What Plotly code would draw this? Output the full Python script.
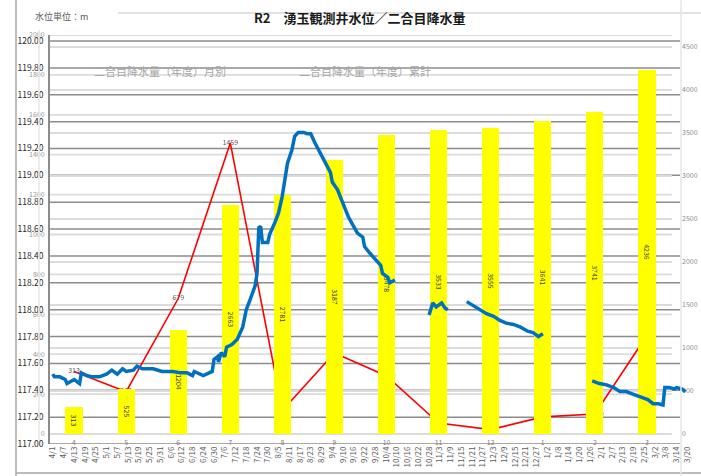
import plotly.graph_objects as go

# ---------------- data ----------------
months = ["4", "5", "6", "7", "8", "9", "10", "11", "12", "1", "2", "3"]
monthly_rain = [313, 212, 679, 1459, 118, 406, 291, 55, 22, 86, 100, 495]
monthly_labels = ["313", "212", "679", "1459", "118.0", "406.0", "291.0",
                  "55.0", "22.0", "86.0", "100.0", "495.0"]
cumulative_rain = [313, 525, 1204, 2663, 2781, 3187, 3478, 3533, 3555, 3641, 3741, 4236]

date_labels = ["4/1", "4/7", "4/13", "4/19", "4/25", "5/1", "5/7", "5/13", "5/19", "5/25",
               "5/31", "6/6", "6/12", "6/18", "6/24", "6/30", "7/6", "7/12", "7/18", "7/24",
               "7/30", "8/5", "8/11", "8/17", "8/23", "8/29", "9/4", "9/10", "9/16", "9/22",
               "9/28", "10/4", "10/10", "10/16", "10/22", "10/28", "11/3", "11/9", "11/15",
               "11/21", "11/27", "12/3", "12/9", "12/15", "12/21", "12/27", "1/2", "1/8",
               "1/14", "1/20", "1/26", "2/1", "2/7", "2/13", "2/19", "2/25", "3/2", "3/8",
               "3/14", "3/20", "3/26"]

# water level: day index from 4/1 and level (m); None = gap
wl_day = [0, 1, 4, 7, 8, 11, 12, 15, 16, 19, 22, 26, 30, 33, 36, 39, 41, 45, 47, 50,
          56, 61, 67, 71, 75, 78, 79, 84, 88, 89, 90, 92, 92.5, 94, 96, 97, 100, 103,
          106, 108, 110, 113, 114, 115, 116, 117, 120, 121, 124, 126, 128, 130, 131,
          133.5, 135, 137, 140, 142, 144, 146, 149, 152, 155, 156, 159, 162, 165, 167.5,
          170, 173, 174, 177, 180, 183, 184, 187, 188, 191,
          200,
          210, 212, 214, 217, 219, 220.5,
          225,
          231, 234.5, 238, 242, 246, 249.5, 253, 257, 261, 265, 268, 271, 273.5,
          290,
          301, 305, 309, 313, 316.5, 320, 324, 328, 332, 335, 338, 340.5, 341.5, 344,
          347, 348, 351, 353]
wl_value = [117.52, 117.50, 117.50, 117.48, 117.45, 117.47, 117.48, 117.45, 117.53, 117.51,
            117.50, 117.50, 117.52, 117.55, 117.52, 117.56, 117.54, 117.55, 117.58, 117.56,
            117.56, 117.54, 117.54, 117.53, 117.53, 117.51, 117.54, 117.51, 117.53, 117.54,
            117.63, 117.65, 117.61, 117.68, 117.65, 117.72, 117.74, 117.78, 117.87, 118.00,
            118.07, 118.18, 118.27, 118.61, 118.62, 118.50, 118.50, 118.56, 118.65, 118.72,
            118.84, 119.02, 119.09, 119.19, 119.29, 119.32, 119.32, 119.31, 119.31, 119.25,
            119.17, 119.10, 119.02, 118.95, 118.89, 118.79, 118.69, 118.63, 118.57, 118.54,
            118.47, 118.42, 118.37, 118.33, 118.27, 118.24, 118.20, 118.22,
            None,
            117.96, 118.05, 118.02, 118.05, 118.01, 118.00,
            None,
            118.06, 118.03, 118.00, 117.97, 117.95, 117.92, 117.90, 117.89, 117.87, 117.84,
            117.83, 117.80, 117.82,
            None,
            117.47, 117.45, 117.44, 117.42, 117.39, 117.39, 117.37, 117.35, 117.33, 117.30,
            117.30, 117.29, 117.42, 117.42, 117.41, 117.42, 117.41, 117.39]

wl_ticks = [117.0, 117.2, 117.4, 117.6, 117.8, 118.0, 118.2, 118.4, 118.6, 118.8,
            119.0, 119.2, 119.4, 119.6, 119.8, 120.0]
rain_ticks = [0, 200, 400, 600, 800, 1000, 1200, 1400, 1600, 1800, 2000]
cum_ticks = [0, 500, 1000, 1500, 2000, 2500, 3000, 3500, 4000, 4500]

# ---------------- layout helpers ----------------
W, H = 701, 476
def px(x):
    return x / W
def py(y):
    return (H - y) / H

FONT = "Noto Sans CJK JP, Noto Sans, sans-serif"
DARK_GRID = "#8c8c8c"
LIGHT_GRID = "#dcdcdc"

fig = go.Figure()

# cumulative bars (right axis)
fig.add_trace(go.Bar(
    x=months, y=cumulative_rain, xaxis="x", yaxis="y3",
    width=0.33, marker=dict(color="#FFFF00", line=dict(width=0)),
    text=[str(v) for v in cumulative_rain], textposition="inside",
    insidetextanchor="middle", textangle=90, constraintext="none",
    textfont=dict(size=7, color="#404040", family=FONT),
    showlegend=False, hoverinfo="skip"))

# monthly rain line (second left axis)
fig.add_trace(go.Scatter(
    x=months, y=monthly_rain, xaxis="x", yaxis="y2",
    mode="lines+text", line=dict(color="#FF0000", width=1.6),
    text=monthly_labels, textposition="middle center",
    textfont=dict(size=7, color="#595959", family=FONT),
    showlegend=False, hoverinfo="skip"))

# water level
fig.add_trace(go.Scatter(
    x=wl_day, y=wl_value, xaxis="x2", yaxis="y",
    mode="lines", line=dict(color="#0070C0", width=3.5),
    connectgaps=False, showlegend=False, hoverinfo="skip"))

shapes = []
for t in wl_ticks:
    shapes.append(dict(type="line", xref="paper", yref="y", x0=px(50), x1=px(680),
                       y0=t, y1=t, layer="below", line=dict(color=DARK_GRID, width=1.5)))
for t in rain_ticks:
    shapes.append(dict(type="line", xref="paper", yref="y2", x0=px(48), x1=px(672),
                       y0=t, y1=t, layer="below", line=dict(color=LIGHT_GRID, width=1.8)))
for t in cum_ticks:
    shapes.append(dict(type="line", xref="paper", yref="y3", x0=px(48), x1=px(672),
                       y0=t, y1=t, layer="below", line=dict(color=LIGHT_GRID, width=1.8)))
# chart frame lines
shapes += [
    dict(type="line", xref="paper", yref="paper", x0=px(16), x1=px(16), y0=0, y1=1,
         line=dict(color="#bfbfbf", width=2)),
    dict(type="line", xref="paper", yref="paper", x0=px(16), x1=1, y0=py(473), y1=py(473),
         line=dict(color="#a6a6a6", width=1.5)),
    dict(type="line", xref="paper", yref="paper", x0=px(118), x1=1, y0=py(13), y1=py(13),
         line=dict(color="#d9d9d9", width=1.5)),
    dict(type="line", xref="paper", yref="paper", x0=px(39), x1=px(39), y0=py(440), y1=py(30),
         line=dict(color="#e6e6e6", width=1.5)),
    dict(type="line", xref="paper", yref="paper", x0=px(681), x1=px(681), y0=0, y1=py(0),
         line=dict(color="#e6e6e6", width=1.5)),
]

annotations = [
    dict(text="<b>R2　湧玉観測井水位／二合目降水量</b>", xref="paper", yref="paper",
         x=px(360), y=py(18), xanchor="center", yanchor="middle", showarrow=False,
         font=dict(size=13, color="#1a1a1a", family=FONT)),
    dict(text="水位単位：m", xref="paper", yref="paper", x=px(61), y=py(17),
         xanchor="center", yanchor="middle", showarrow=False,
         font=dict(size=9, color="#595959", family=FONT)),
    dict(text="二合目降水量（年度）月別", xref="paper", yref="paper", x=px(160), y=py(71),
         xanchor="center", yanchor="middle", showarrow=False,
         font=dict(size=11, color="#a6a6a6", family=FONT)),
    dict(text="二合目降水量（年度）累計", xref="paper", yref="paper", x=px(365), y=py(71),
         xanchor="center", yanchor="middle", showarrow=False,
         font=dict(size=11, color="#a6a6a6", family=FONT)),
]

ydom = [py(444), py(35)]

fig.update_layout(
    width=W, height=H, margin=dict(l=0, r=0, t=0, b=0, autoexpand=False),
    paper_bgcolor="white", plot_bgcolor="rgba(0,0,0,0)",
    font=dict(family=FONT),
    bargap=0,
    xaxis=dict(type="category", domain=[px(48), px(673)], anchor="free", position=py(437),
               range=[-0.5, 11.5], showgrid=False, showline=False, zeroline=False, ticks="",
               tickfont=dict(size=7, color="#7f7f7f"), automargin=False),
    xaxis2=dict(domain=[px(50), 1], anchor="y", range=[-1.5, 361.7],
                tickvals=[6 * i for i in range(len(date_labels))], ticktext=date_labels,
                tickangle=-90, tickfont=dict(size=8, color="#595959"),
                showgrid=False, showline=False, zeroline=False, ticks="", automargin=False),
    yaxis=dict(domain=ydom, anchor="x2", range=[117.0, 120.045], tickvals=wl_ticks,
               ticktext=["%.2f" % t for t in wl_ticks], tickfont=dict(size=8.5, color="#262626"),
               showgrid=False, zeroline=False, showline=True, linecolor=DARK_GRID, linewidth=1.5,
               ticks="outside", ticklen=3, tickcolor="rgba(0,0,0,0)", automargin=False),
    yaxis2=dict(overlaying="y", side="left", anchor="x2", range=[-50.1, 2000],
                tickvals=rain_ticks, tickfont=dict(size=7, color="#999999"),
                showgrid=False, zeroline=False, showline=False,
                ticks="outside", ticklen=3, tickcolor="rgba(0,0,0,0)", automargin=False),
    yaxis3=dict(overlaying="y", side="right", anchor="free", position=px(681),
                range=[-116.3, 4639.5], tickvals=cum_ticks,
                tickfont=dict(size=7, color="#8c8c8c"),
                showgrid=False, zeroline=False, showline=False, automargin=False),
    shapes=shapes, annotations=annotations,
)

fig.write_html("out.html", config={"displayModeBar": False},
               post_script="document.body.style.margin='0px';")
